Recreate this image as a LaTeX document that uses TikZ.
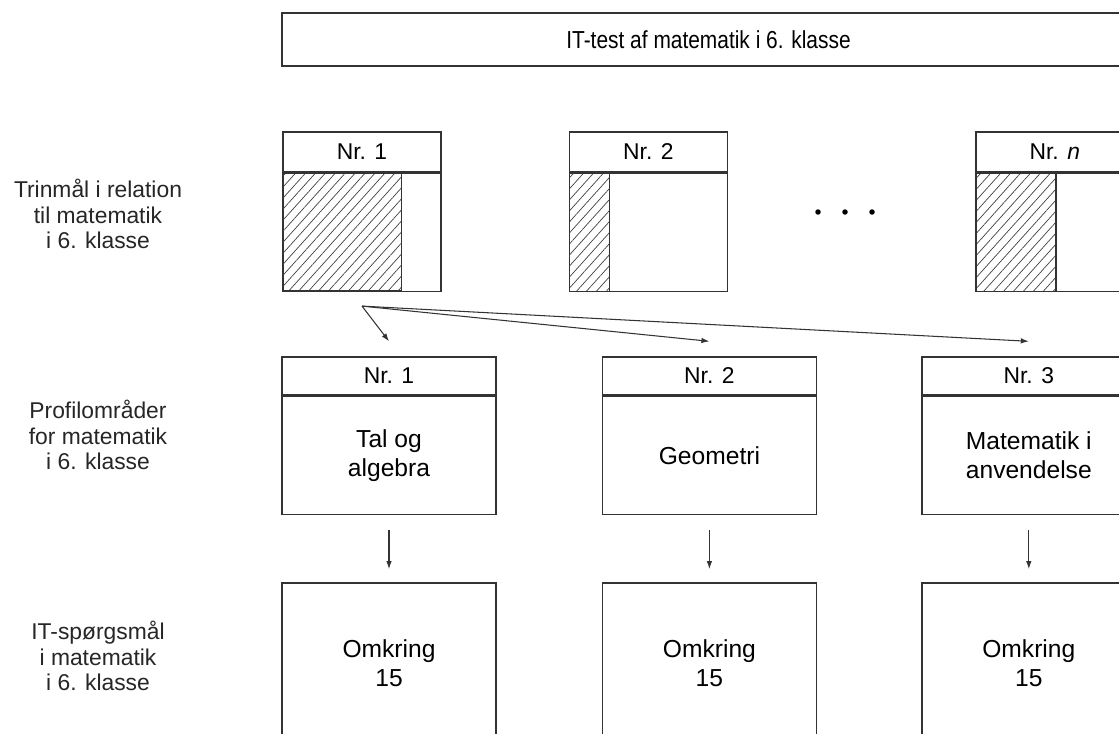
\documentclass[tikz,border=0pt]{standalone}
\usepackage{fontspec}
\setmainfont{Liberation Sans}
\newfontfamily\narrowfont[FakeStretch=0.85]{Liberation Sans}
\usetikzlibrary{arrows.meta, positioning, patterns.meta}

\begin{document}
\begin{tikzpicture}[
    >=Latex,
    font=\fontsize{13}{14.5}\selectfont,
    % Style definitions
    testbox/.style={draw=black!80, line width=0.8pt, minimum width=17.06cm, minimum height=1.06cm, inner sep=0pt, font=\narrowfont\fontsize{14}{16}\selectfont},
    goalhead/.style={draw=black!80, line width=0.8pt, minimum width=3.16cm, minimum height=0.8cm, inner sep=0pt, font=\fontsize{13}{15}\selectfont},
    goalbody/.style={draw=black!80, line width=0.8pt, minimum width=3.16cm, minimum height=2.36cm, inner sep=0pt},
    hatch/.style={draw=black!80, line width=0.8pt, minimum height=2.36cm, inner sep=0pt, anchor=north west, pattern={Lines[angle=48, distance=4.2pt, line width=0.4pt]}, pattern color=black!75},
    areahead/.style={draw=black!80, line width=0.8pt, minimum width=4.28cm, minimum height=0.76cm, inner sep=0pt, font=\fontsize{13}{15}\selectfont},
    areabody/.style={draw=black!80, line width=0.8pt, minimum width=4.28cm, minimum height=2.36cm, inner sep=0pt, align=center, font=\fontsize{14}{16.5}\selectfont},
    question/.style={draw=black!80, line width=0.8pt, minimum width=4.28cm, minimum height=3.2cm, inner sep=0pt, align=center, font=\fontsize{14}{16.5}\selectfont},
    rowlabel/.style={align=center, text=black!85},
    ellipsisdot/.style={circle, fill=black, inner sep=0pt, minimum size=0.11cm},
    arrow/.style={->, line width=0.6pt, >={Latex[length=1.6mm, width=1.1mm]}, black!80},
]

\useasboundingbox (0,0) rectangle (22.38,-14.66);
\clip (0,0) rectangle (22.38,-14.66);

%% ---------- TOP ----------
\node[testbox] (test) at (14.17,-0.79) {IT-test af matematik i 6. klasse};

%% ---------- TRINMAAL ----------
\node[rowlabel] (goallabel) at (1.96,-4.28) {Trinmål i relation\\til matematik\\i 6. klasse};

\node[goalhead] (goal1) at (7.24,-3.04) {Nr. 1};
\node[goalbody, below=0pt of goal1] (goal1body) {};
\node[hatch, minimum width=2.38cm] (goal1hatch) at (goal1body.north west) {};

\node[goalhead, right=2.54cm of goal1] (goal2) {Nr. 2};
\node[goalbody, below=0pt of goal2] (goal2body) {};
\node[hatch, minimum width=0.8cm] (goal2hatch) at (goal2body.north west) {};

\node[goalhead, right=4.94cm of goal2] (goaln) {Nr. \textit{n}};
\node[goalbody, below=0pt of goaln] (goalnbody) {};
\node[hatch, minimum width=1.6cm] (goalnhatch) at (goalnbody.north west) {};

\node[ellipsisdot] (dot1) at (16.36,-4.24) {};
\node[ellipsisdot] (dot2) at (16.9,-4.24) {};
\node[ellipsisdot] (dot3) at (17.44,-4.24) {};

%% ---------- PROFILOMRAADER ----------
\node[rowlabel] (arealabel) at (1.96,-8.7) {Profilområder\\for matematik\\i 6. klasse};

\node[areahead] (area1) at (7.78,-7.52) {Nr. 1};
\node[areabody, below=0pt of area1] (area1body) {Tal og\\algebra};
\node[areahead, right=2.1cm of area1] (area2) {Nr. 2};
\node[areabody, below=0pt of area2] (area2body) {Geometri};
\node[areahead, right=2.08cm of area2] (area3) {Nr. 3};
\node[areabody, below=0pt of area3] (area3body) {Matematik i\\anvendelse};

%% ---------- IT-SPOERGSMAAL ----------
\node[rowlabel] (questlabel) at (1.96,-13.12) {IT-spørgsmål\\i matematik\\i 6. klasse};

\node[question, below=1.34cm of area1body] (quest1) {Omkring\\15};
\node[question, below=1.34cm of area2body] (quest2) {Omkring\\15};
\node[question, below=1.34cm of area3body] (quest3) {Omkring\\15};

%% ========== ARROWS ==========

% Trinmaal to profilomraader
\coordinate[below=0.28cm of goal1body] (split);
\coordinate[above=0.3cm of area1] (area1in);
\coordinate[above=0.3cm of area2] (area2in);
\coordinate[above=0.3cm of area3] (area3in);
\draw[arrow] (split) -- (area1in);
\draw[arrow] (split) -- (area2in);
\draw[arrow] (split) -- (area3in);

% Profilomraader to questions
\draw[arrow, shorten <=0.3cm, shorten >=0.26cm] (area1body) -- (quest1);
\draw[arrow, shorten <=0.3cm, shorten >=0.26cm] (area2body) -- (quest2);
\draw[arrow, shorten <=0.3cm, shorten >=0.26cm] (area3body) -- (quest3);

\end{tikzpicture}
\end{document}
